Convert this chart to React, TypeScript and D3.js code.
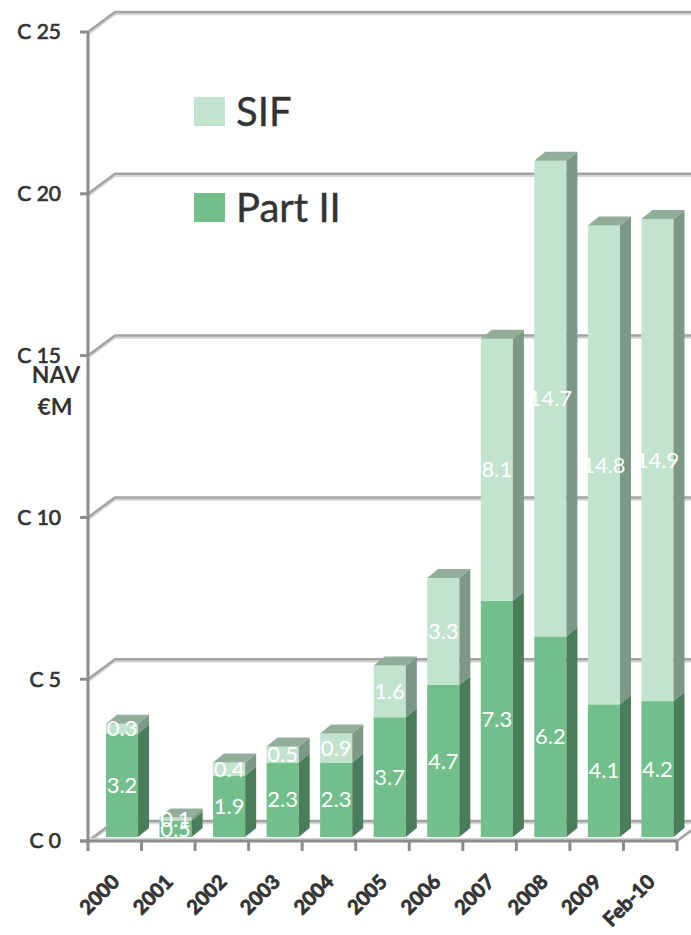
import React from "react";
import * as d3 from "d3";

const categories = ["2000", "2001", "2002", "2003", "2004", "2005", "2006", "2007", "2008", "2009", "Feb-10"];
const partII = [3.2, 0.5, 1.9, 2.3, 2.3, 3.7, 4.7, 7.3, 6.2, 4.1, 4.2];
const sif = [0.3, 0.1, 0.4, 0.5, 0.9, 1.6, 3.3, 8.1, 14.7, 14.8, 14.9];
const yTicks = [0, 5, 10, 15, 20, 25];
const yTickLabels = ["C 0", "C 5", "C 10", "C 15", "C 20", "C 25"];
const seriesNames = ["Part II", "SIF"];

const W = 691;
const H = 935;
const DX = 27; // wall depth
const DY = -20;
const BDX = 11; // bar depth
const BDY = -9;

const colors = {
  partFront: "#73bf8b",
  partSide: "#4a7e5b",
  partTop: "#5f9a72",
  sifFront: "#c2e4cf",
  sifSide: "#7c9886",
  sifTop: "#92ae9b",
};

export default function App() {
  const x = d3.scaleBand<string>().domain(categories).range([88, 677]).padding(0);
  const y = d3.scaleLinear().domain([0, 25]).range([841, 32]);
  const bw = x.bandwidth();
  const barOff = 4; // bars sit slightly behind the front edge

  const rows = categories.map((c, i) => ({ cat: c, partII: partII[i], sif: sif[i] }));
  const stacked = d3.stack<any>().keys(["partII", "sif"])(rows);

  const floorY = y(0);
  const font = "Lato, 'Open Sans', sans-serif";

  return (
    <svg width={W} height={H} style={{ position: "absolute", left: 0, top: 0, background: "#fff" }}>
      {/* gridlines (back wall + left wall diagonal) */}
      {yTicks.map((t) => {
        const yy = y(t);
        return (
          <g key={"g" + t}>
            <polyline
              points={`88,${yy + 2} ${88 + DX},${yy + DY + 2} ${W},${yy + DY + 2}`}
              fill="none"
              stroke="#d6d6d6"
              strokeWidth={2.5}
            />
            <polyline
              points={`88,${yy} ${88 + DX},${yy + DY} ${W},${yy + DY}`}
              fill="none"
              stroke="#a3a3a3"
              strokeWidth={2.5}
            />
            <line x1={80} x2={88} y1={yy} y2={yy} stroke="#8c8c8c" strokeWidth={3} />
          </g>
        );
      })}
      {/* floor front edge */}
      <line x1={88} x2={677} y1={floorY - 2} y2={floorY - 2} stroke="#d6d6d6" strokeWidth={2} />
      <line x1={80} x2={677} y1={floorY} y2={floorY} stroke="#8c8c8c" strokeWidth={3} />
      <polyline points={`677,${floorY} ${677 + DX},${floorY + DY}`} fill="none" stroke="#a3a3a3" strokeWidth={2.5} />
      {/* y axis */}
      <line x1={88} x2={88} y1={y(25)} y2={floorY} stroke="#8c8c8c" strokeWidth={3} />
      {/* x ticks */}
      {categories.concat([""]).map((c, i) => {
        const xx = 88 + i * bw;
        return <line key={"xt" + i} x1={xx} x2={xx} y1={floorY} y2={floorY + 10} stroke="#8c8c8c" strokeWidth={3} />;
      })}

      {/* bars */}
      {categories.map((c, i) => {
        const fx = (x(c) as number) + bw * 0.335;
        const fw = bw * 0.6;
        const segs = stacked.map((s, k) => ({ k, y0: s[i][0], y1: s[i][1] }));
        const topSeg = segs[segs.length - 1];
        return (
          <g key={"b" + c}>
            {segs.map((s) => {
              const top = y(s.y1) - barOff;
              const bot = y(s.y0) - barOff;
              const front = s.k === 0 ? colors.partFront : colors.sifFront;
              const side = s.k === 0 ? colors.partSide : colors.sifSide;
              return (
                <g key={s.k}>
                  <rect x={fx} y={top} width={fw} height={bot - top} fill={front} />
                  <polygon
                    points={`${fx + fw},${bot} ${fx + fw + BDX},${bot + BDY} ${fx + fw + BDX},${top + BDY} ${fx + fw},${top}`}
                    fill={side}
                  />
                </g>
              );
            })}
            {(() => {
              const top = y(topSeg.y1) - barOff;
              return (
                <polygon
                  points={`${fx},${top} ${fx + BDX},${top + BDY} ${fx + fw + BDX},${top + BDY} ${fx + fw},${top}`}
                  fill={topSeg.k === 0 ? colors.partTop : colors.sifTop}
                />
              );
            })()}
            {segs.map((s) => {
              const mid = (y(s.y0) + y(s.y1)) / 2 - barOff;
              const v = s.k === 0 ? partII[i] : sif[i];
              return (
                <text
                  key={"l" + s.k}
                  x={fx + fw / 2}
                  y={mid}
                  dy="0.35em"
                  textAnchor="middle"
                  fill="#ffffff"
                  fontFamily={font}
                  fontSize={22}
                >
                  {v.toFixed(1)}
                </text>
              );
            })}
          </g>
        );
      })}

      {/* y tick labels */}
      {yTicks.map((t, i) => (
        <text
          key={"yl" + t}
          x={61}
          y={y(t)}
          dy="0.35em"
          textAnchor="end"
          fill="#333"
          stroke="#333"
          strokeWidth={0.7}
          fontFamily={font}
          fontSize={21}
        >
          {yTickLabels[i]}
        </text>
      ))}

      {/* axis title */}
      <text x={56} y={383} textAnchor="middle" fill="#333" fontFamily={font} fontWeight={700} fontSize={23}>
        NAV
      </text>
      <text x={55} y={415} textAnchor="middle" fill="#333" fontFamily={font} fontWeight={700} fontSize={23}>
        €M
      </text>

      {/* x labels */}
      {categories.map((c) => {
        const cx = (x(c) as number) + bw / 2 + 6;
        const cy = 883;
        return (
          <text
            key={"xl" + c}
            x={cx}
            y={cy}
            textAnchor="end"
            transform={`rotate(-45 ${cx} ${cy})`}
            fill="#333"
            stroke="#333"
            strokeWidth={0.8}
            fontFamily={font}
            fontWeight={700}
            fontSize={20}
          >
            {c}
          </text>
        );
      })}

      {/* legend */}
      {[1, 0].map((k, j) => (
        <g key={"lg" + k} transform={`translate(194, ${97 + j * 96})`}>
          <rect x={0} y={0} width={31} height={29} fill={k === 0 ? colors.partFront : colors.sifFront} />
          <text x={42} y={29} fill="#333" stroke="#333" strokeWidth={0.4} fontFamily={font} fontSize={40}>
            {seriesNames[k]}
          </text>
        </g>
      ))}
    </svg>
  );
}
